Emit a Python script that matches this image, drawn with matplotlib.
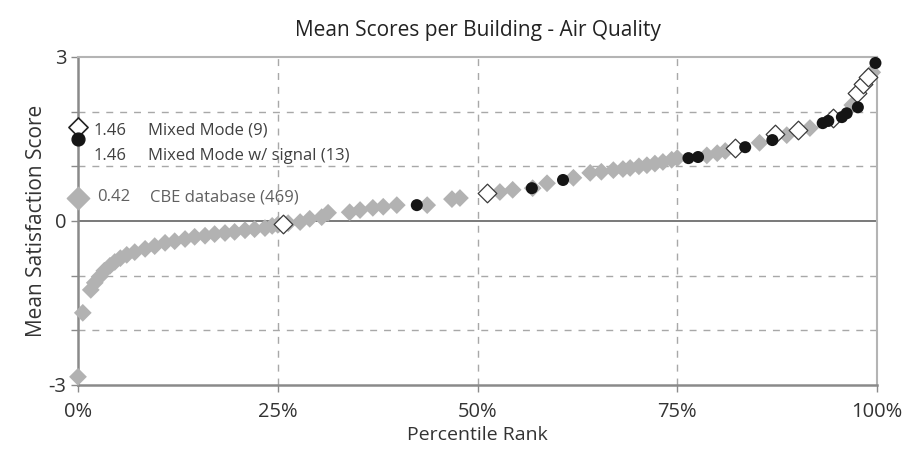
import matplotlib
matplotlib.use('Agg')
import matplotlib.pyplot as plt

plt.rcParams['font.family'] = ['Open Sans', 'DejaVu Sans']

# CBE database buildings, sorted (percentile rank, mean score)
cbe_pct = [0.0, 0.6, 1.6, 2.1, 2.7, 3.3, 4.0, 4.6, 5.3, 6.1, 7.1, 8.4, 9.6,
           10.9, 12.1, 13.4, 14.6, 15.9, 17.1, 18.4, 19.6, 20.9, 22.1, 23.4,
           24.3, 25.0, 26.3, 27.8, 29.0, 30.5, 31.3, 34.0, 35.3, 36.9, 38.2,
           39.9, 43.7, 46.8, 47.8, 52.8, 54.4, 56.9, 58.7, 62.0, 64.1, 65.5,
           67.0, 68.2, 69.1, 70.2, 71.2, 72.2, 73.2, 74.3, 75.0, 78.7, 80.0,
           81.0, 85.3, 88.7, 91.6, 96.9, 98.3, 99.4]
cbe_score = [-2.85, -1.68, -1.26, -1.13, -1.02, -0.91, -0.82, -0.75, -0.68,
             -0.62, -0.57, -0.51, -0.46, -0.40, -0.37, -0.33, -0.29, -0.27,
             -0.24, -0.22, -0.20, -0.17, -0.15, -0.13, -0.09, -0.07, -0.04,
             -0.02, 0.04, 0.07, 0.15, 0.16, 0.20, 0.24, 0.26, 0.29, 0.29,
             0.40, 0.42, 0.53, 0.57, 0.60, 0.69, 0.79, 0.88, 0.90, 0.93, 0.95,
             0.97, 1.00, 1.02, 1.05, 1.08, 1.12, 1.15, 1.20, 1.24, 1.28, 1.43,
             1.57, 1.70, 2.12, 2.52, 2.72]

# Mixed Mode (9)
mm_pct = [25.6, 51.2, 82.2, 87.2, 90.1, 94.5, 97.5, 98.3, 98.9]
mm_score = [-0.05, 0.51, 1.33, 1.60, 1.66, 1.88, 2.34, 2.50, 2.63]

# Mixed Mode w/ signal (13)
mms_pct = [42.4, 56.8, 60.7, 76.4, 77.6, 83.5, 86.9, 93.2, 93.9, 95.6, 96.2,
           97.6, 99.8]
mms_score = [0.29, 0.60, 0.75, 1.15, 1.17, 1.35, 1.48, 1.79, 1.83, 1.90, 1.97,
             2.08, 2.89]

# means shown at the left edge
legend_rows = [('1.46', 'Mixed Mode (9)'),
               ('1.46', 'Mixed Mode w/ signal (13)'),
               ('0.42', 'CBE database (469)')]

fig = plt.figure(figsize=(9.08, 4.54), dpi=100)
ax = fig.add_axes([0.0859, 0.152, 0.88, 0.7225])

ax.set_xlim(0, 100)
ax.set_ylim(-3, 3)

# grid
for yv in [-2, -1, 1, 2]:
    ax.axhline(yv, color='#a8a8a8', lw=1, ls=(0, (5, 5)), zorder=1)
for xv in [25, 50, 75]:
    ax.axvline(xv, color='#a8a8a8', lw=1, ls=(0, (5, 5)), zorder=1)
ax.axhline(0, color='#6e6e6e', lw=1.3, zorder=1)

for s in ['left', 'bottom']:
    ax.spines[s].set_color('#8a8a8a')
    ax.spines[s].set_linewidth(1.8)
for s in ['top', 'right']:
    ax.spines[s].set_color('#b4b4b4')
    ax.spines[s].set_linewidth(1.5)

ax.scatter(cbe_pct, cbe_score, marker='D', s=82, color='#b2b2b2',
           edgecolors='none', zorder=3, clip_on=False)
ax.scatter(mm_pct, mm_score, marker='D', s=90, facecolors='white',
           edgecolors='#3a3a3a', linewidths=0.9, zorder=4, clip_on=False)
ax.scatter(mms_pct, mms_score, marker='o', s=75, color='#151515',
           edgecolors='none', zorder=5, clip_on=False)

# legend markers on the axis
ax.scatter([0], [1.72], marker='D', s=95, facecolors='white',
           edgecolors='#222222', linewidths=1.2, zorder=6, clip_on=False)
ax.scatter([0], [1.50], marker='o', s=85, color='#151515', zorder=7,
           clip_on=False)
ax.scatter([0], [0.42], marker='D', s=130, color='#b2b2b2', zorder=6,
           clip_on=False)

ax.text(1.9, 1.65, legend_rows[0][0], fontsize=12, color='#404040', va='center')
ax.text(8.7, 1.65, legend_rows[0][1], fontsize=12, color='#404040', va='center')
ax.text(1.9, 1.19, legend_rows[1][0], fontsize=12, color='#404040', va='center')
ax.text(8.7, 1.19, legend_rows[1][1], fontsize=12, color='#404040', va='center')
ax.text(2.4, 0.43, legend_rows[2][0], fontsize=12, color='#606060', va='center')
ax.text(9.0, 0.43, legend_rows[2][1], fontsize=12, color='#606060', va='center')

ax.set_yticks([-3, -2, -1, 0, 1, 2, 3])
ax.set_yticklabels(['-3', '', '', '0', '', '', '3'])
ax.set_xticks([0, 25, 50, 75, 100])
ax.set_xticklabels(['0%', '25%', '50%', '75%', '100%'])
ax.tick_params(axis='both', direction='out', length=5, width=1,
               color='#8a8a8a', labelsize=14.5, labelcolor='#333333')
ax.tick_params(axis='x', pad=7)

ax.set_title('Mean Scores per Building - Air Quality', fontsize=15,
             color='#222222', pad=15)
ax.set_xlabel('Percentile Rank', fontsize=14, color='#333333', labelpad=3)
ax.set_ylabel('Mean Satisfaction Score', fontsize=15, color='#333333',
              labelpad=1)

fig.savefig('out.png', dpi=100)
